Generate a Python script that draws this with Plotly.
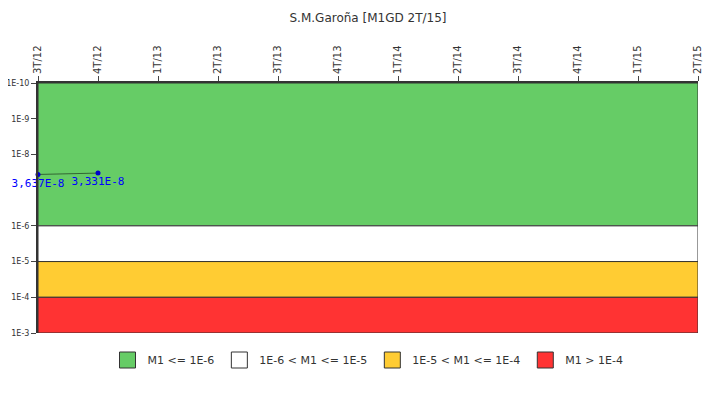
import plotly.graph_objects as go

quarters = ["3T/12", "4T/12", "1T/13", "2T/13", "3T/13", "4T/13",
            "1T/14", "2T/14", "3T/14", "4T/14", "1T/15", "2T/15"]
point_quarters = ["3T/12", "4T/12"]
point_values = [3.637e-8, 3.331e-8]
point_labels = ["3,637E-8", "3,331E-8"]

band_names = ["M1 <= 1E-6", "1E-6 < M1 <= 1E-5", "1E-5 < M1 <= 1E-4", "M1 > 1E-4"]
band_low = [1e-10, 1e-6, 1e-5, 1e-4]
band_high = [1e-6, 1e-5, 1e-4, 1e-3]
band_colors = ["#66cc66", "#ffffff", "#ffcc33", "#ff3333"]

tick_vals = [1e-10, 1e-9, 1e-8, 1e-6, 1e-5, 1e-4, 1e-3]
tick_text = ["1E-10", "1E-9", "1E-8", "1E-6", "1E-5", "1E-4", "1E-3"]

xi = list(range(len(quarters)))
x0, x1 = xi[0], xi[-1]

fig = go.Figure()
for name, lo, hi, col in zip(band_names, band_low, band_high, band_colors):
    fig.add_trace(go.Scatter(
        x=[x0, x1, x1, x0, x0], y=[lo, lo, hi, hi, lo],
        fill="toself", fillcolor=col, mode="lines",
        line=dict(color="#333333", width=1), showlegend=False, hoverinfo="skip"))
    # legend swatch
    fig.add_trace(go.Scatter(
        x=[None], y=[None], mode="markers", name=name,
        marker=dict(symbol="square", size=18, color=col,
                    line=dict(color="#333333", width=1))))

px = [quarters.index(q) for q in point_quarters]
fig.add_trace(go.Scatter(
    x=px, y=point_values, mode="lines+markers+text", text=point_labels,
    textposition="bottom center",
    textfont=dict(color="#0000ff", size=11, family="DejaVu Sans Mono"),
    line=dict(color="#336633", width=1), marker=dict(color="#0000cc", size=5),
    showlegend=False, cliponaxis=False))

fig.update_layout(
    width=720, height=400, plot_bgcolor="white", paper_bgcolor="white",
    margin=dict(l=30, r=30, t=75, b=75, autoexpand=False),
    font=dict(family="DejaVu Sans", size=10, color="#333333"),
    title=dict(text="S.M.Garoña [M1GD 2T/15]", x=0.5, y=0.985, yanchor="top",
               font=dict(size=12, color="#333333")),
    xaxis=dict(range=[x0, x1], tickvals=xi, ticktext=quarters, side="top",
               tickangle=-90, showgrid=False, zeroline=False, ticks="outside",
               ticklen=5, showline=True, linecolor="#333333", linewidth=2,
               automargin=False),
    yaxis=dict(type="log", range=[-3, -10], tickvals=tick_vals, ticktext=tick_text,
               showgrid=False, ticks="outside", ticklen=5, showline=True,
               linecolor="#333333", linewidth=2, tickfont=dict(size=8),
               automargin=False),
    legend=dict(orientation="h", x=0.5, xanchor="center", y=-0.05, yanchor="top",
                font=dict(size=11)),
)
fig.write_html("out.html")
